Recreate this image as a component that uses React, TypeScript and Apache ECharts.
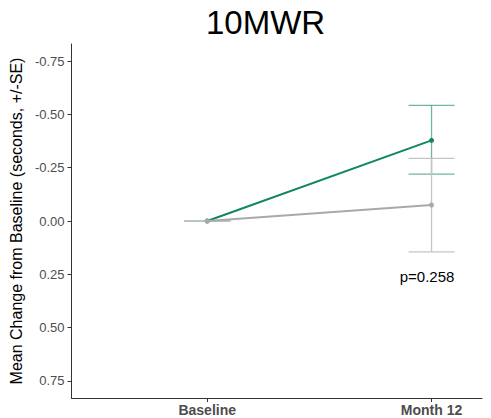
import React, { useEffect, useRef } from "react";
import * as echarts from "echarts";

const categories = ["Baseline", "Month 12"];
const xPos = [0, 1];
const greenMean = [0, -0.378];
const greenLow = [0, -0.542];
const greenHigh = [0, -0.22];
const grayMean = [0, -0.075];
const grayLow = [0, -0.294];
const grayHigh = [0, 0.145];
const yTicks = [-0.75, -0.5, -0.25, 0, 0.25, 0.5, 0.75];
const pText = "p=0.258";

const GREEN = "#10875c";
const GREEN_ERR = "rgba(16,135,92,0.6)";
const GRAY = "#a9a9a9";
const GRAY_ERR = "#c4c4c4";

function errSeries(low: number[], high: number[], color: string) {
  return {
    type: "custom",
    z: 2,
    data: xPos.map((x, i) => [x, low[i], high[i]]),
    renderItem: (params: any, api: any) => {
      const x = api.value(0);
      const p1 = api.coord([x, api.value(1)]);
      const p2 = api.coord([x, api.value(2)]);
      const hw = 23;
      const style = { stroke: color, lineWidth: 1.3, fill: "none" };
      return {
        type: "group",
        children: [
          { type: "line", shape: { x1: p1[0], y1: p1[1], x2: p2[0], y2: p2[1] }, style },
          { type: "line", shape: { x1: p1[0] - hw, y1: p1[1], x2: p1[0] + hw, y2: p1[1] }, style },
          { type: "line", shape: { x1: p2[0] - hw, y1: p2[1], x2: p2[0] + hw, y2: p2[1] }, style },
        ],
      };
    },
  };
}

export default function App() {
  const ref = useRef<HTMLDivElement>(null);
  useEffect(() => {
    const chart = echarts.init(ref.current!, null, { renderer: "svg" });
    chart.setOption({
      animation: false,
      backgroundColor: "#ffffff",
      title: {
        text: "10MWR",
        left: 201,
        top: 1,
        textStyle: { fontFamily: "Liberation Sans, Arial", fontSize: 33, fontWeight: "normal", color: "#000" },
      },
      grid: { left: 67, right: 9, top: 44, bottom: 20 },
      xAxis: {
        type: "value",
        min: -0.605,
        max: 1.225,
        splitLine: { show: false },
        axisLine: { show: true, onZero: false, lineStyle: { color: "#333", width: 1 } },
        axisTick: { show: true, customValues: xPos, length: 4, lineStyle: { color: "#333" } },
        axisLabel: {
          customValues: xPos,
          formatter: (v: number) => categories[Math.round(v)] ?? "",
          fontFamily: "Liberation Sans, Arial",
          fontSize: 14,
          fontWeight: "bold",
          color: "#4d4d4d",
          margin: 5,
        },
      },
      yAxis: {
        type: "value",
        inverse: true,
        min: -0.83,
        max: 0.83,
        splitLine: { show: false },
        axisLine: { show: true, onZero: false, lineStyle: { color: "#333", width: 1 } },
        axisTick: { show: true, customValues: yTicks, length: 4, lineStyle: { color: "#333" } },
        axisLabel: {
          customValues: yTicks,
          formatter: (v: number) => (Math.abs(v) < 1e-9 ? "0.00" : v.toFixed(2)),
          fontFamily: "Liberation Sans, Arial",
          fontSize: 13,
          color: "#4d4d4d",
          margin: 7,
        },
        name: "Mean Change from Baseline (seconds, +/-SE)",
        nameLocation: "middle",
        nameGap: 40,
        nameTextStyle: { fontFamily: "Liberation Sans, Arial", fontSize: 16, color: "#000" },
      },
      series: [
        errSeries(greenLow, greenHigh, GREEN_ERR),
        {
          type: "line",
          z: 3,
          data: xPos.map((x, i) => [x, greenMean[i]]),
          lineStyle: { color: GREEN, width: 2 },
          itemStyle: { color: GREEN },
          symbol: "circle",
          symbolSize: 5,
          showSymbol: true,
        },
        errSeries(grayLow, grayHigh, GRAY_ERR),
        {
          type: "line",
          z: 4,
          data: xPos.map((x, i) => [x, grayMean[i]]),
          lineStyle: { color: GRAY, width: 2 },
          itemStyle: { color: GRAY },
          symbol: "circle",
          symbolSize: 5,
          showSymbol: true,
        },
      ],
      graphic: [
        {
          type: "text",
          x: 427,
          y: 276,
          style: {
            text: pText,
            fontFamily: "Liberation Sans, Arial",
            fontSize: 15,
            fill: "#000",
            textAlign: "center",
            textVerticalAlign: "middle",
          },
        },
      ],
    });
    return () => chart.dispose();
  }, []);
  return <div ref={ref} style={{ position: "fixed", left: 0, top: 0, width: 491, height: 418 }} />;
}
